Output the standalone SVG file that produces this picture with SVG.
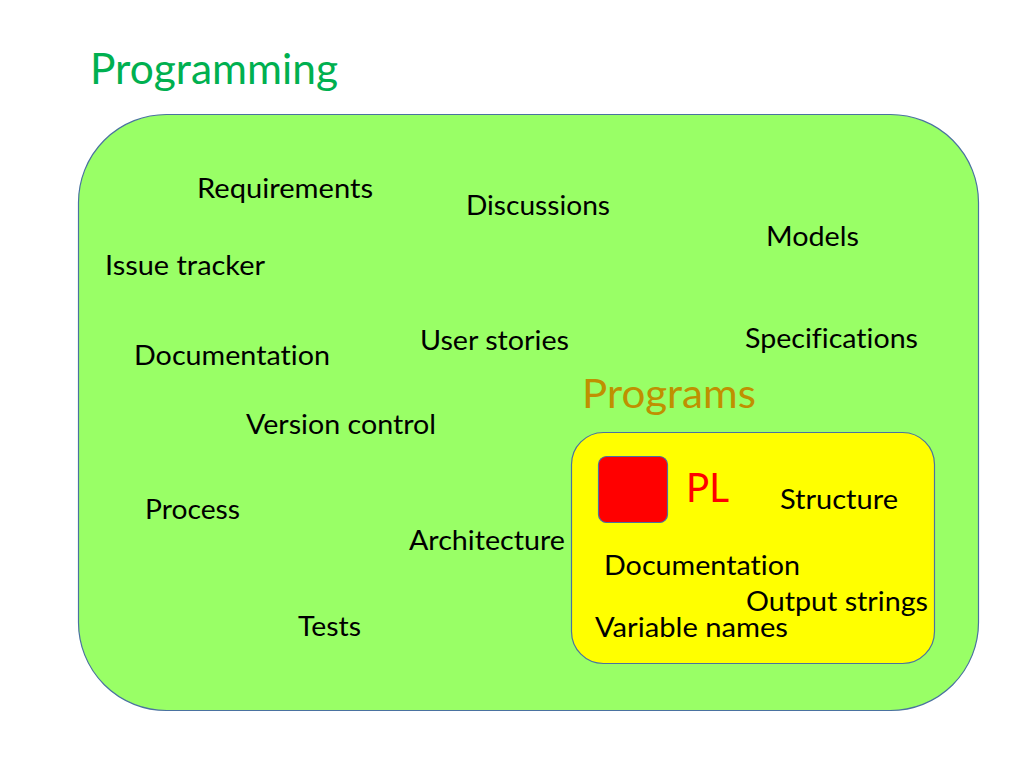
<svg xmlns="http://www.w3.org/2000/svg" width="1024" height="768" viewBox="0 0 1024 768">
<style>
text{font-family:Lato,"Open Sans","Liberation Sans",sans-serif;fill:#000;font-variant-ligatures:none}
.t{font-size:26px}
.big{font-size:40px}
</style>
<rect width="1024" height="768" fill="#fff"/>
<text x="90" y="84" style="font-size:42px;fill:#00b050" textLength="248" lengthAdjust="spacingAndGlyphs">Programming</text>
<g id="programming-area">
<rect x="78.5" y="114.5" width="900" height="596" rx="88" ry="88" fill="#99ff66" stroke="#4a72a0" stroke-width="1.2"/>
<text class="t" x="197" y="198" textLength="176" lengthAdjust="spacingAndGlyphs">Requirements</text>
<text class="t" x="466" y="215" textLength="144" lengthAdjust="spacingAndGlyphs">Discussions</text>
<text class="t" x="766" y="246" textLength="93" lengthAdjust="spacingAndGlyphs">Models</text>
<text class="t" x="105" y="275" textLength="160" lengthAdjust="spacingAndGlyphs">Issue tracker</text>
<text class="t" x="420" y="350" textLength="149" lengthAdjust="spacingAndGlyphs">User stories</text>
<text class="t" x="745" y="348" textLength="173" lengthAdjust="spacingAndGlyphs">Specifications</text>
<text class="t" x="134" y="365" textLength="196" lengthAdjust="spacingAndGlyphs">Documentation</text>
<text class="t" x="246" y="434" textLength="190" lengthAdjust="spacingAndGlyphs">Version control</text>
<text class="t" x="145" y="519" textLength="95" lengthAdjust="spacingAndGlyphs">Process</text>
<text class="t" x="409" y="550" textLength="156" lengthAdjust="spacingAndGlyphs">Architecture</text>
<text class="t" x="298" y="636" textLength="63" lengthAdjust="spacingAndGlyphs">Tests</text>
<text class="big" x="582" y="408" style="fill:#bf9000" textLength="174" lengthAdjust="spacingAndGlyphs">Programs</text>
</g>
<g id="programs-area">
<rect x="571.5" y="432.5" width="363" height="231" rx="32" ry="32" fill="#ffff00" stroke="#4a72a0" stroke-width="1.2"/>
<text class="t" x="780" y="509" textLength="118" lengthAdjust="spacingAndGlyphs">Structure</text>
<text class="t" x="604" y="575" textLength="196" lengthAdjust="spacingAndGlyphs">Documentation</text>
<text class="t" x="746" y="611" textLength="182" lengthAdjust="spacingAndGlyphs">Output strings</text>
<text class="t" x="595" y="637" textLength="193" lengthAdjust="spacingAndGlyphs">Variable names</text>
</g>
<g id="pl">
<rect x="598.5" y="456.5" width="69" height="66" rx="8" ry="8" fill="#ff0000" stroke="#4a72a0" stroke-width="1.2"/>
<text class="big" x="686" y="502" style="fill:#ff0000" textLength="43" lengthAdjust="spacingAndGlyphs">PL</text>
</g>
<g id="connectors"/>
</svg>
